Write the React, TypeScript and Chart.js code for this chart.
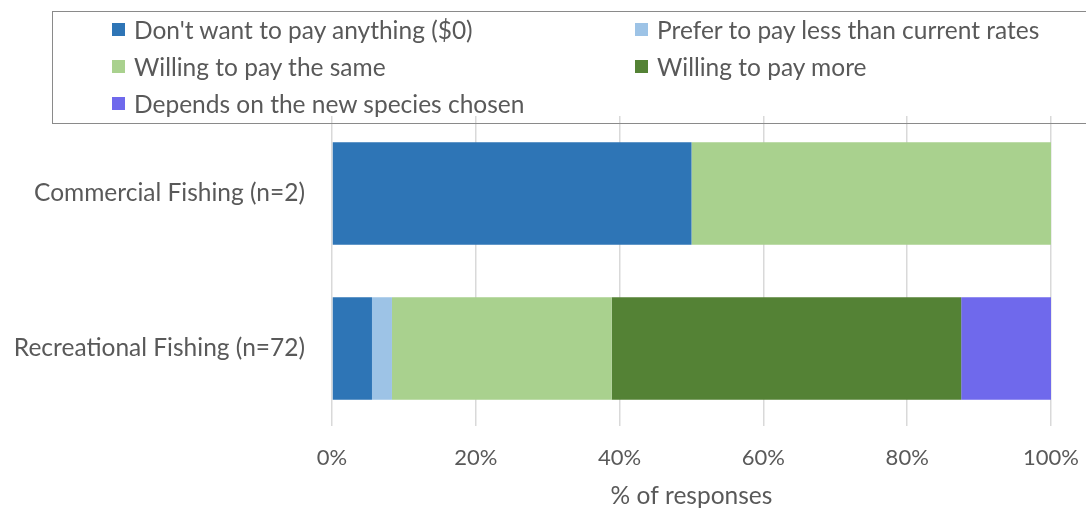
import React, { useEffect, useRef } from "react";
import { Chart, registerables } from "chart.js";

Chart.register(...registerables);

const categories = ["Commercial Fishing (n=2)", "Recreational Fishing (n=72)"];
const seriesNames = [
  "Don't want to pay anything ($0)",
  "Prefer to pay less than current rates",
  "Willing to pay the same",
  "Willing to pay more",
  "Depends on the new species chosen",
];
const dontPay = [50, 5.56];
const preferLess = [0, 2.78];
const paySame = [50, 30.56];
const payMore = [0, 48.61];
const depends = [0, 12.5];
const seriesColors = ["#2E75B6", "#9DC3E6", "#A9D18E", "#548235", "#6F69EC"];
const xTicks = [0, 20, 40, 60, 80, 100];

const FONT = "Lato, 'Open Sans', sans-serif";
const TEXT = "#595959";

export default function App() {
  const ref = useRef<HTMLCanvasElement | null>(null);
  useEffect(() => {
    const values = [dontPay, preferLess, paySame, payMore, depends];
    const chart = new Chart(ref.current!, {
      type: "bar",
      data: {
        labels: categories,
        datasets: values.map((v, i) => ({
          label: seriesNames[i],
          data: v,
          backgroundColor: seriesColors[i],
          borderWidth: 0,
          categoryPercentage: 1,
          barPercentage: 0.66,
        })),
      },
      options: {
        indexAxis: "y",
        responsive: false,
        animation: false,
        layout: { padding: { left: 0, top: 116, right: 35, bottom: 0 } },
        plugins: { legend: { display: false }, tooltip: { enabled: false } },
        scales: {
          x: {
            stacked: true,
            min: 0,
            max: 100,
            afterBuildTicks: (s: any) => {
              s.ticks = xTicks.map((v) => ({ value: v }));
            },
            afterFit: (s: any) => {
              s.height = 87;
              s.paddingLeft = 0;
              s.paddingRight = 0;
            },
            grid: { color: "#d9d9d9", lineWidth: 1.5, drawTicks: false },
            border: { display: false },
            ticks: {
              padding: 19,
              color: TEXT,
              font: { family: FONT, size: 22 },
              callback: (v: any) => v + "%",
            },
            title: {
              display: true,
              text: "% of responses",
              color: TEXT,
              font: { family: FONT, size: 24.5 },
              padding: { top: 0, bottom: 2 },
            },
          },
          y: {
            stacked: true,
            afterFit: (s: any) => {
              s.width = 332;
            },
            grid: { display: false, drawTicks: false },
            border: { display: false },
            ticks: {
              padding: 27,
              color: TEXT,
              font: { family: FONT, size: 24.5 },
            },
          },
        },
      },
    });
    return () => chart.destroy();
  }, []);

  const legendPos = [
    { x: 112, y: 29 },
    { x: 635, y: 29 },
    { x: 112, y: 66 },
    { x: 635, y: 66 },
    { x: 112, y: 103 },
  ];

  return (
    <div
      style={{
        position: "fixed",
        left: 0,
        top: 0,
        width: 1086,
        height: 513,
        overflow: "hidden",
        background: "#fff",
      }}
    >
      <canvas ref={ref} width={1086} height={513} style={{ position: "absolute", left: 0, top: 0 }} />
      <div
        style={{
          position: "absolute",
          left: 52,
          top: 11,
          width: 1100,
          height: 113,
          border: "1.5px solid #8a8a8a",
          boxSizing: "border-box",
        }}
      />
      {seriesNames.map((name, i) => (
        <div
          key={name}
          style={{
            position: "absolute",
            left: legendPos[i].x,
            top: legendPos[i].y - 15,
            height: 30,
            display: "flex",
            alignItems: "center",
            fontFamily: FONT,
            fontSize: 24.5,
            color: TEXT,
            whiteSpace: "nowrap",
          }}
        >
          <span
            style={{
              display: "inline-block",
              width: 13,
              height: 13,
              background: seriesColors[i],
              marginRight: 9,
            }}
          />
          <span>{name}</span>
        </div>
      ))}
    </div>
  );
}
